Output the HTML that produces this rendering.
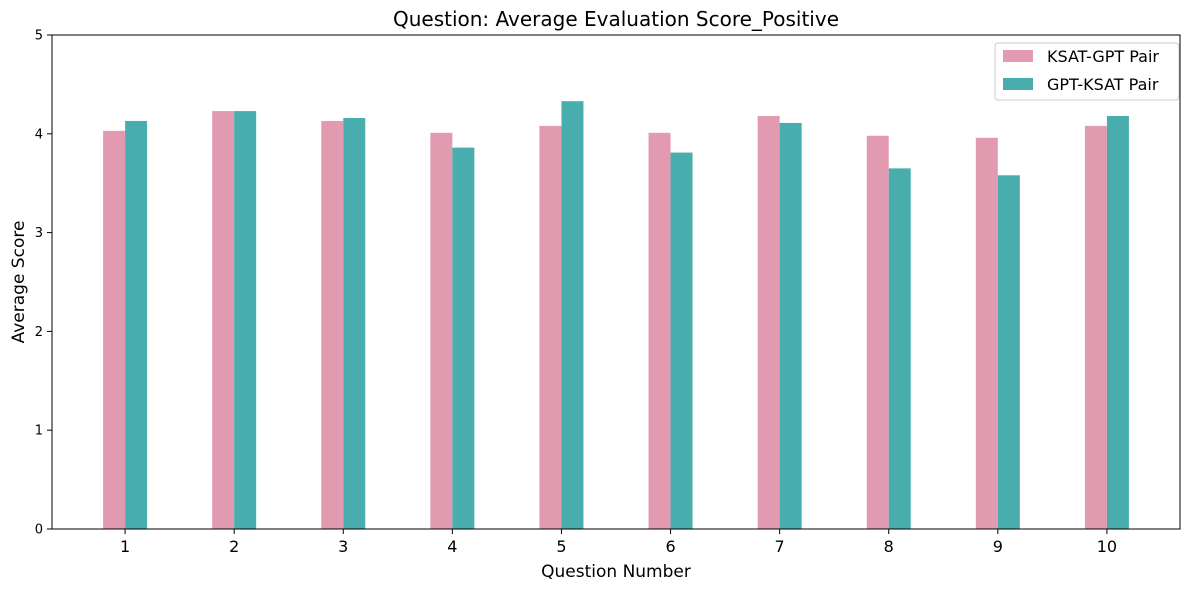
<!DOCTYPE html>
<html><head><meta charset="utf-8"><style>
body{margin:0;background:#fff;font-family:"Liberation Sans","DejaVu Sans",sans-serif;}
svg text{font-family:"DejaVu Sans","Liberation Sans",sans-serif;}
</style></head><body>
<svg id="chart" width="1189" height="590" xmlns="http://www.w3.org/2000/svg">
<rect width="1189" height="590" fill="#fff"/>
<text x="616" y="26" text-anchor="middle" font-size="20" fill="#000">Question: Average Evaluation Score_Positive</text>
<g id="bars"></g>
<g id="axes"></g>
<text x="616" y="577" text-anchor="middle" font-size="17">Question Number</text>
<text transform="translate(24,282) rotate(-90)" text-anchor="middle" font-size="17">Average Score</text>
<g>
<rect x="995" y="43" width="184" height="57" rx="3" fill="#fff" stroke="#ccc"/>
<rect x="1003" y="50" width="30" height="12" fill="#e29ab1"/>
<text x="1047" y="62" font-size="16">KSAT-GPT Pair</text>
<rect x="1003" y="78" width="30" height="12" fill="#4aadad"/>
<text x="1047" y="90" font-size="16">GPT-KSAT Pair</text>
</g>
</svg>
<script>
const categories=[1,2,3,4,5,6,7,8,9,10];
const ksatGpt=[4.03,4.23,4.13,4.01,4.08,4.01,4.18,3.98,3.96,4.08];
const gptKsat=[4.13,4.23,4.16,3.86,4.33,3.81,4.11,3.65,3.58,4.18];
const yTicks=[0,1,2,3,4,5];
const NS="http://www.w3.org/2000/svg";
const L=52,R=1180,T=35,B=529;
const xMin=0.33,xMax=10.67;
function xs(v){return L+(v-xMin)/(xMax-xMin)*(R-L);}
function ys(v){return B-v/5*(B-T);}
const bw=22;
const bars=document.getElementById('bars');
const axes=document.getElementById('axes');
function mk(tag,attrs,parent){const e=document.createElementNS(NS,tag);for(const k in attrs)e.setAttribute(k,attrs[k]);parent.appendChild(e);return e;}
categories.forEach((c,i)=>{
  const cx=xs(c);
  const a=mk('rect',{x:cx-bw,y:ys(ksatGpt[i]),width:bw,height:B-ys(ksatGpt[i]),fill:'#e29ab1'},bars);
  
  
  const b=mk('rect',{x:cx,y:ys(gptKsat[i]),width:bw,height:B-ys(gptKsat[i]),fill:'#4aadad'},bars);
  
  
  mk('line',{x1:cx,x2:cx,y1:B,y2:B+5,stroke:'#000'},axes);
  const t=mk('text',{x:cx,y:B+23,'text-anchor':'middle','font-size':'16'},axes);
  t.textContent=c;
  
  
});
yTicks.forEach(v=>{
  const y=ys(v);
  mk('line',{x1:L-5,x2:L,y1:y,y2:y,stroke:'#000'},axes);
  const t=mk('text',{x:L-9,y:y+4.5,'text-anchor':'end','font-size':'13'},axes);
  t.textContent=v;
  
  
});
const f=mk('rect',{x:L,y:T,width:R-L,height:B-T,fill:'none',stroke:'#000','stroke-width':1},axes);


</script>
</body></html>
